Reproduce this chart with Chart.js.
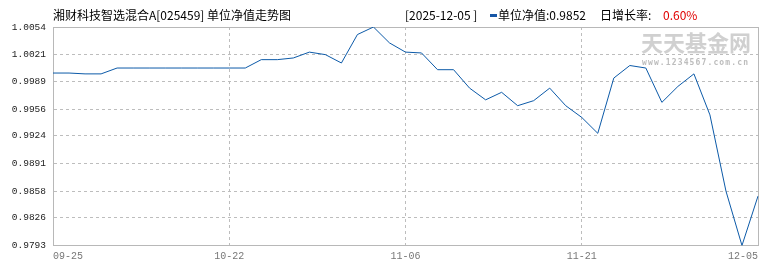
<!DOCTYPE html>
<html>
<head>
<meta charset="utf-8">
<script src="https://cdn.jsdelivr.net/npm/chart.js@4/dist/chart.umd.min.js"></script>
<style>
body { margin: 0; background: #fff; }
#wrap { position: relative; width: 770px; height: 270px; overflow: hidden; }
canvas { position: absolute; left: 0; top: 0; }
.t { position: absolute; top: 6px; font: 12px "Noto Sans CJK SC", sans-serif; color: #000; white-space: nowrap; line-height: 18px; }
.mark { position: absolute; left: 490px; top: 14px; width: 7px; height: 3px; background: #1656a6; }
</style>
</head>
<body>
<div id="wrap">
    <canvas id="navChart" width="770" height="270"></canvas>
    <div class="t" style="left:53px">湘财科技智选混合A[025459] 单位净值走势图</div>
    <div class="t" style="left:405px">[2025-12-05 ]</div>
    <div class="mark"></div>
    <div class="t" style="left:498px">单位净值:0.9852</div>
    <div class="t" style="left:600px">日增长率:</div>
    <div class="t" style="left:663px;color:#e00000">0.60%</div>
</div>
<script>
// trading dates shown on the chart
const dates = [
    '09-25', '09-26', '09-30', '10-09', '10-10', '10-13', '10-15', '10-16', '10-17', '10-20',
    '10-21', '10-22', '10-23', '10-24', '10-27', '10-28', '10-29', '10-30', '10-31', '11-03',
    '11-04', '11-05', '11-06', '11-07', '11-10', '11-11', '11-12', '11-13', '11-14', '11-17',
    '11-18', '11-19', '11-20', '11-21', '11-24', '11-25', '11-26', '11-27', '11-28', '11-30',
    '12-01', '12-02', '12-03', '12-04', '12-05'
];

// unit NAV
const navValues = [
    0.9999, 0.9999, 0.9998, 0.9998, 1.0005, 1.0005, 1.0005, 1.0005, 1.0005, 1.0005,
    1.0005, 1.0005, 1.0005, 1.0015, 1.0015, 1.0017, 1.0024, 1.0021, 1.0011, 1.0045,
    1.0054, 1.0035, 1.0024, 1.0023, 1.0003, 1.0003, 0.9981, 0.9967, 0.9976, 0.9960,
    0.9966, 0.9981, 0.9960, 0.9946, 0.9927, 0.9993, 1.0008, 1.0005, 0.9964, 0.9983,
    0.9998, 0.9949, 0.9858, 0.9793, 0.9852
];

const xTickLabels = ['09-25', '10-22', '11-06', '11-21', '12-05'];
const yTicks = [0.9793, 0.9826, 0.9858, 0.9891, 0.9924, 0.9956, 0.9989, 1.0021, 1.0054];

// box around plot + watermark
const framePlugin = {
    id: 'frame',
    beforeDatasetsDraw(chart) {
        const ctx = chart.ctx;
        const a = chart.chartArea;
        ctx.save();
        ctx.strokeStyle = '#b8b8b8';
        ctx.lineWidth = 1;
        ctx.beginPath();
        ctx.moveTo(a.left, a.top + 0.5);
        ctx.lineTo(a.right + 0.5, a.top + 0.5);
        ctx.lineTo(a.right + 0.5, a.bottom);
        ctx.stroke();

        ctx.fillStyle = '#d0d0d0';
        ctx.font = 'bold 22px "Noto Sans CJK SC"';
        ctx.textBaseline = 'top';
        ctx.fillText('天天基金网', 641, 32);
        ctx.fillStyle = '#bdbdbd';
        ctx.font = 'bold 8px "DejaVu Sans Mono"';
        const url = 'www.1234567.com.cn';
        for (let i = 0; i < url.length; i++) {
            ctx.fillText(url[i], 642 + i * 5.95, 59);
        }
        ctx.restore();
    }
};

const ctx = document.getElementById('navChart').getContext('2d');
const chart = new Chart(ctx, {
    type: 'line',
    data: {
        labels: dates,
        datasets: [{
            data: navValues,
            borderColor: '#0c5aa8',
            borderWidth: 1,
            pointRadius: 0,
            tension: 0,
            fill: false
        }]
    },
    options: {
        responsive: false,
        animation: false,
        layout: { padding: { top: 27, right: 12, left: 0, bottom: 0 } },
        plugins: {
            legend: { display: false },
            tooltip: { enabled: false }
        },
        scales: {
            x: {
                type: 'category',
                offset: false,
                afterFit: s => { s.height = 24.5; },
                afterBuildTicks: s => {
                    s.ticks = s.ticks.filter(t => xTickLabels.includes(dates[t.value]));
                },
                grid: { color: '#bdbdbd', drawTicks: false },
                border: { color: '#b8b8b8', dash: [3, 3] },
                ticks: {
                    autoSkip: false,
                    maxRotation: 0,
                    align: 'inner',
                    padding: 5,
                    color: '#777',
                    font: { family: 'Liberation Mono', size: 10 }
                }
            },
            y: {
                min: 0.9793,
                max: 1.0054,
                afterFit: s => { s.width = 53; },
                afterBuildTicks: s => {
                    s.ticks = yTicks.map(v => ({ value: v }));
                },
                grid: { color: '#bdbdbd', drawTicks: false },
                border: { color: '#b8b8b8', dash: [3, 3] },
                ticks: {
                    padding: 7,
                    color: '#222',
                    font: { family: 'Liberation Mono', size: 9.5 },
                    callback: v => v.toFixed(4)
                }
            }
        }
    },
    plugins: [framePlugin]
});
</script>
</body>
</html>
